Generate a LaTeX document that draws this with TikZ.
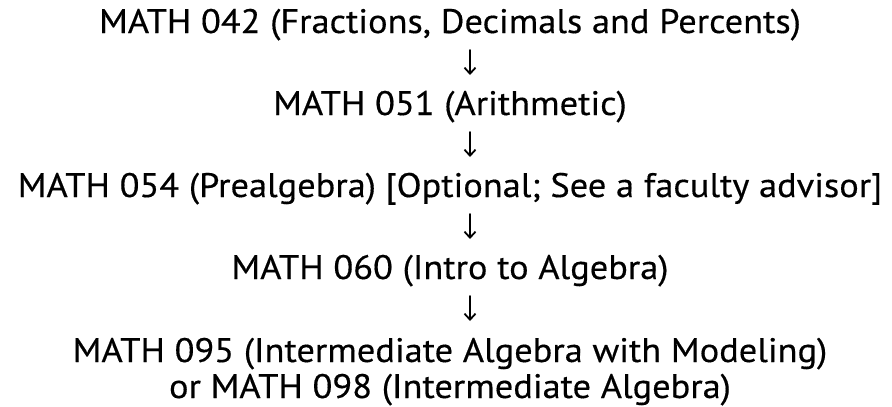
\documentclass[tikz,border=0pt]{standalone}
\usepackage{fontspec}
\setmainfont{PT Sans}[FakeStretch=1.07, FakeBold=0.4]
\usetikzlibrary{arrows.meta}
\tikzset{
  course/.style={anchor=base, inner sep=0pt, font=\fontsize{34}{40}\selectfont},
  flow/.style={-{Straight Barb[length=6pt,width=11pt]}, line width=1.8pt, line cap=round}
}
\begin{document}
\begin{tikzpicture}[x=1pt, y=1pt]
\useasboundingbox (0,0) rectangle (892,-407);
% Course sequence, one line each
\node[course] (m042) at (450,-33) {MATH 042 (Fractions, Decimals and Percents)};
\node[course] (m051) at (450,-115) {MATH 051 (Arithmetic)};
\node[course] (m054) at (450,-197) {MATH 054 (Prealgebra) [Optional; See a faculty advisor]};
\node[course] (m060) at (450,-279) {MATH 060 (Intro to Algebra)};
\node[course] (m095) at (450,-362) {MATH 095 (Intermediate Algebra with Modeling)};
\node[course] (m098) at (450,-398) {or MATH 098 (Intermediate Algebra)};
% Arrows sit a bit right of centre
\coordinate (ax) at (470,0);
\draw[flow] (m042.base -| ax) ++(0,-17) -- ++(0,-25);
\draw[flow] (m051.base -| ax) ++(0,-17) -- ++(0,-25);
\draw[flow] (m054.base -| ax) ++(0,-17) -- ++(0,-25);
\draw[flow] (m060.base -| ax) ++(0,-17) -- ++(0,-25);
\end{tikzpicture}
\end{document}
